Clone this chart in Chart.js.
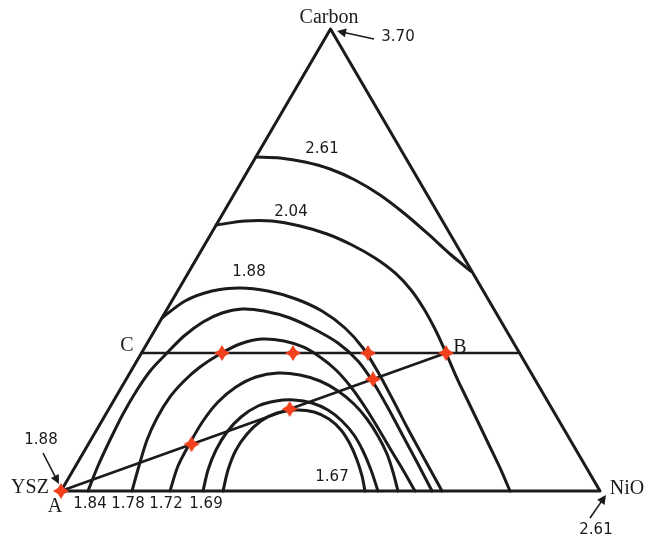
<!DOCTYPE html>
<html><head><meta charset="utf-8">
<script src="https://cdn.jsdelivr.net/npm/chart.js@4.4.1/dist/chart.umd.min.js"></script>
<style>html,body{margin:0;padding:0;background:#fff}#wrap{width:645px;height:538px}</style>
</head><body><div id="wrap"><canvas id="c" width="645" height="538"></canvas></div>
<script>
// Compositions are [NiO fraction, Carbon fraction]; YSZ = 1 - NiO - Carbon.
const vertexNames = ['YSZ', 'NiO', 'Carbon'];
const vertexValues = ['1.88', '2.61', '3.70'];
const contourLevels = ['2.61', '2.04', '1.88', '1.84', '1.78', '1.72', '1.69', '1.67'];

const iso261 = [[0.000,0.7229],[0.0459,0.7208],[0.0966,0.7121],[0.1506,0.6970],[0.2089,0.6732],[0.2715,0.6407],
  [0.3384,0.5996],[0.4028,0.5563],[0.4652,0.5130],[0.522,0.476]];
const iso204 = [[0.000,0.5758],[0.0492,0.5844],[0.0993,0.5844],[0.1566,0.5736],[0.2154,0.5563],[0.2737,0.5325],
  [0.3304,0.5043],[0.3838,0.4719],[0.4319,0.4351],[0.4765,0.3939],[0.5225,0.3463],[0.565,0.2987],
  [0.6083,0.2489],[0.6536,0.1991],[0.6990,0.1494],[0.7443,0.0996],[0.7896,0.0498],[0.8330,0.000]];
const iso188 = [[0.000,0.3745],[0.0245,0.4113],[0.0637,0.4329],[0.1124,0.4394],[0.1675,0.4329],[0.2282,0.4156],
  [0.2894,0.3896],[0.3505,0.3528],[0.4055,0.3095],[0.4593,0.2576],[0.5175,0.1970],[0.5767,0.1342],
  [0.6417,0.0671],[0.7069,0.000]];
const iso184 = [[0.0501,0.000],[0.0415,0.0541],[0.0357,0.1104],[0.0317,0.1667],[0.0317,0.2186],[0.0360,0.2619],
  [0.0473,0.2987],[0.0605,0.3355],[0.0806,0.3658],[0.1061,0.3853],[0.1388,0.3939],[0.1818,0.3896],
  [0.2377,0.3745],[0.2941,0.3506],[0.3537,0.3203],[0.4103,0.2814],[0.4609,0.2359],[0.5169,0.1797],
  [0.5750,0.1190],[0.6331,0.0584],[0.6883,0.000]];
const iso178 = [[0.1317,0.000],[0.1176,0.0541],[0.1044,0.1104],[0.0991,0.1580],[0.1005,0.2035],[0.1092,0.2381],
  [0.1237,0.2684],[0.1467,0.2965],[0.1730,0.3182],[0.2084,0.3290],[0.2514,0.3247],[0.2932,0.3117],
  [0.3355,0.2900],[0.3792,0.2619],[0.4254,0.2251],[0.4731,0.1818],[0.5199,0.1364],[0.5678,0.0887],
  [0.6118,0.0455],[0.6568,0.000]];
const iso172 = [[0.2022,0.000],[0.1900,0.0541],[0.1873,0.1039],[0.1877,0.1515],[0.1950,0.1926],[0.2121,0.2251],
  [0.2384,0.2468],[0.2749,0.2554],[0.3178,0.2511],[0.3615,0.2381],[0.4057,0.2165],[0.4494,0.1883],
  [0.4898,0.1558],[0.5286,0.1190],[0.5648,0.0801],[0.5954,0.0411],[0.6252,0.000]];
const iso169 = [[0.2635,0.000],[0.2500,0.0455],[0.2432,0.0887],[0.2441,0.1277],[0.2539,0.1602],[0.2735,0.1840],
  [0.3015,0.1948],[0.3338,0.1970],[0.3705,0.1905],[0.4077,0.1753],[0.4455,0.1515],[0.4830,0.1212],
  [0.5170,0.0866],[0.5524,0.0455],[0.5881,0.000]];
const iso167 = [[0.3006,0.000],[0.2871,0.0455],[0.2803,0.0887],[0.2834,0.1234],[0.2953,0.1515],[0.3163,0.1688],
  [0.3483,0.1753],[0.3839,0.1710],[0.4193,0.1558],[0.4535,0.1320],[0.4853,0.1017],[0.5156,0.0671],
  [0.5422,0.0325],[0.5640,0.000]];

// Section lines: C-B at constant carbon, A-B from the YSZ corner to B
const lineCB = [[0.000,0.2987],[0.7013,0.2987]];
const lineAB = [[0.000,0.000],[0.565,0.2987]];
// Sampled compositions along the two section lines
const samplesCB = [[0.1493,0.2987],[0.2810,0.2987],[0.4202,0.2987],[0.565,0.2987]];
const samplesAB = [[0.000,0.000],[0.1915,0.1013],[0.3356,0.1774],[0.4577,0.2419]];

const triangle = [[0,0],[1,0],[0,1],[0,0]];

const toXY = p => ({ x: p[0] + p[1] / 2, y: p[1] });
const INK = '#1b1b1b';

function sparkle(size, color) {
  const cv = document.createElement('canvas');
  cv.width = cv.height = size;
  const g = cv.getContext('2d');
  const r = size / 2, w = size * 0.19;
  g.fillStyle = color;
  g.beginPath();
  g.moveTo(r, 0); g.lineTo(r + w, r - w); g.lineTo(size, r); g.lineTo(r + w, r + w);
  g.lineTo(r, size); g.lineTo(r - w, r + w); g.lineTo(0, r); g.lineTo(r - w, r - w);
  g.closePath(); g.fill();
  return cv;
}
const star = sparkle(16, '#f2401c');

function curve(points, width, tension) {
  return { data: points.map(toXY), showLine: true, borderColor: INK, borderWidth: width,
           pointRadius: 0, tension: tension, fill: false, clip: false, order: 2,
           borderCapStyle: 'round', borderJoinStyle: 'round' };
}

const datasets = [
  curve(triangle, 3, 0),
  curve(iso261, 3, 0.3), curve(iso204, 3, 0.3), curve(iso188, 3, 0.3), curve(iso184, 3, 0.3),
  curve(iso178, 3, 0.3), curve(iso172, 3, 0.3), curve(iso169, 3, 0.3), curve(iso167, 3, 0.3),
  curve(lineCB, 2.6, 0), curve(lineAB, 2.6, 0),
  { data: samplesCB.concat(samplesAB).map(toXY), showLine: false, pointStyle: star,
    pointRadius: 8, clip: false, order: 0 }
];

function arrow(g, x1, y1, x2, y2) {
  const a = Math.atan2(y2 - y1, x2 - x1), L = 9, W = 4.5;
  g.beginPath(); g.moveTo(x1, y1); g.lineTo(x2 - Math.cos(a) * L * 0.8, y2 - Math.sin(a) * L * 0.8);
  g.lineWidth = 1.6; g.strokeStyle = INK; g.stroke();
  g.beginPath(); g.moveTo(x2, y2);
  g.lineTo(x2 - Math.cos(a) * L - Math.sin(a) * W, y2 - Math.sin(a) * L + Math.cos(a) * W);
  g.lineTo(x2 - Math.cos(a) * L + Math.sin(a) * W, y2 - Math.sin(a) * L - Math.cos(a) * W);
  g.closePath(); g.fillStyle = INK; g.fill();
}

const annotations = {
  id: 'annotations',
  afterDatasetsDraw(chart) {
    const g = chart.ctx;
    g.save();
    g.fillStyle = INK; g.textAlign = 'center'; g.textBaseline = 'middle';
    const serif = '20px "Liberation Serif", "DejaVu Serif", serif';
    const sans = '15px "DejaVu Sans", sans-serif';
    g.font = serif;
    g.fillText(vertexNames[2], 329, 18);
    g.fillText(vertexNames[0], 30, 488);
    g.fillText(vertexNames[1], 627, 489);
    g.fillText('A', 55, 507);
    g.fillText('C', 127, 346);
    g.fillText('B', 460, 348);
    g.font = sans;
    g.fillText(vertexValues[2], 398, 37);
    g.fillText(vertexValues[0], 41, 440);
    g.fillText(vertexValues[1], 596, 530);
    g.fillText(contourLevels[0], 322, 149);
    g.fillText(contourLevels[1], 291, 212);
    g.fillText(contourLevels[2], 249, 272);
    g.fillText(contourLevels[3], 90, 504);
    g.fillText(contourLevels[4], 128, 504);
    g.fillText(contourLevels[5], 166, 504);
    g.fillText(contourLevels[6], 206, 504);
    g.fillText(contourLevels[7], 332, 477);
    arrow(g, 374, 39, 337, 31);
    arrow(g, 43, 453, 59, 484);
    arrow(g, 590, 518, 606, 495);
    g.restore();
  }
};

new Chart(document.getElementById('c'), {
  type: 'scatter',
  data: { datasets },
  options: {
    responsive: false, devicePixelRatio: 1, animation: false,
    layout: { padding: { left: 61, right: 45, top: 29, bottom: 47 } },
    plugins: { legend: { display: false }, tooltip: { enabled: false } },
    scales: {
      x: { type: 'linear', min: 0, max: 1, display: false },
      y: { type: 'linear', min: 0, max: 1, display: false }
    }
  },
  plugins: [annotations]
});
</script></body></html>
